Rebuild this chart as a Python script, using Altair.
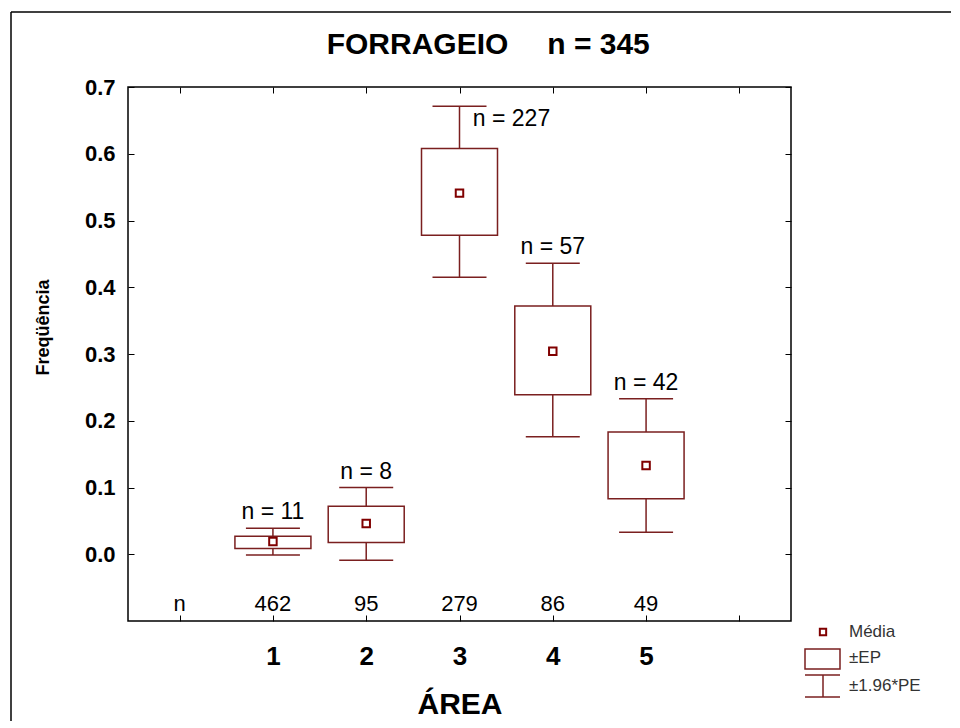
import altair as alt
import pandas as pd

# ---- data ----
areas = [1, 2, 3, 4, 5]
means = [0.019, 0.046, 0.541, 0.304, 0.133]
ep_low = [0.0085, 0.0175, 0.478, 0.239, 0.083]
ep_high = [0.027, 0.072, 0.608, 0.372, 0.183]
ci_low = [-0.001, -0.009, 0.415, 0.176, 0.033]
ci_high = [0.039, 0.100, 0.671, 0.436, 0.233]
n_labels = ["n = 11", "n = 8", "n = 227", "n = 57", "n = 42"]
count_pos = [0, 1, 2, 3, 4, 5]
count_labels = ["n", "462", "95", "279", "86", "49"]
x_ticks = [0, 1, 2, 3, 4, 5, 6]
y_ticks = [0.0, 0.1, 0.2, 0.3, 0.4, 0.5, 0.6, 0.7]

df = pd.DataFrame({
    "area": areas, "mean": means, "ep_low": ep_low, "ep_high": ep_high,
    "ci_low": ci_low, "ci_high": ci_high, "nlab": n_labels,
})
df_counts = pd.DataFrame({"pos": count_pos, "lab": count_labels})
dummy = pd.DataFrame({"k": [0]})

MAROON = "#7a1f1f"
FONT = "Liberation Sans"

xs = alt.Scale(domain=[-0.5, 6.5], nice=False, zero=False)
ys = alt.Scale(domain=[-0.1, 0.7], nice=False, zero=False)

x_bottom = alt.Axis(
    orient="bottom", values=x_ticks, ticks=False, tickSize=0,
    labelExpr="datum.value >= 1 && datum.value <= 5 ? datum.label : ''",
    labelFont=FONT, labelFontSize=26, labelFontWeight="bold", labelColor="black",
    labelPadding=22, domain=False,
    grid=True, gridColor="black", gridDash=[6, 2000], gridWidth=1, gridOpacity=1,
    title="ÁREA", titleFont=FONT, titleFontSize=30, titleFontWeight="bold",
    titleColor="black", titlePadding=20,
)
y_left = alt.Axis(
    orient="left", values=y_ticks, format=".1f", ticks=False, tickSize=0,
    labelFont=FONT, labelFontSize=22, labelFontWeight="bold", labelColor="black",
    labelPadding=13, domain=False,
    grid=True, gridColor="black", gridDash=[6, 2000], gridWidth=1, gridOpacity=1,
    title="Freqüência", titleFont=FONT, titleFontSize=18, titleFontWeight="bold",
    titleColor="black", titleX=-85, titleY=240, titleAngle=270,
    titleAlign="center", titleBaseline="middle",
)
x_top = alt.Axis(
    orient="top", values=x_ticks, ticks=False, tickSize=0, labels=False,
    domain=False, grid=True, gridColor="black", gridDash=[6, 2000],
    gridWidth=1, gridOpacity=1, title=None,
)
y_right = alt.Axis(
    orient="right", values=y_ticks, ticks=False, tickSize=0, labels=False,
    domain=False, grid=True, gridColor="black", gridDash=[6, 2000],
    gridWidth=1, gridOpacity=1, title=None,
)

base = alt.Chart(df)

whisk = base.mark_rule(color=MAROON, strokeWidth=1.5).encode(
    x=alt.X("area:Q", scale=xs, axis=x_bottom),
    y=alt.Y("ci_low:Q", scale=ys, axis=y_left),
    y2="ci_high:Q",
)
box = base.mark_bar(size=76, fill="white", stroke=MAROON, strokeWidth=1.5).encode(
    x=alt.X("area:Q", scale=xs, axis=x_top),
    y=alt.Y("ep_low:Q", scale=ys, axis=y_right),
    y2="ep_high:Q",
)
cap_hi = base.mark_tick(orient="horizontal", size=54, thickness=1.5, color=MAROON, opacity=1).encode(
    x=alt.X("area:Q", scale=xs, axis=None),
    y=alt.Y("ci_high:Q", scale=ys, axis=None),
)
cap_lo = base.mark_tick(orient="horizontal", size=54, thickness=1.5, color=MAROON, opacity=1).encode(
    x=alt.X("area:Q", scale=xs, axis=None),
    y=alt.Y("ci_low:Q", scale=ys, axis=None),
)
mean_pt = base.mark_point(shape="square", size=56, filled=False, color="#800000",
                          strokeWidth=2, opacity=1).encode(
    x=alt.X("area:Q", scale=xs, axis=None),
    y=alt.Y("mean:Q", scale=ys, axis=None),
)
nlab_common = dict(font=FONT, fontSize=23, color="black", baseline="middle", align="center")
nlab = base.transform_filter("datum.area != 3").mark_text(dy=-16, **nlab_common).encode(
    x=alt.X("area:Q", scale=xs, axis=None),
    y=alt.Y("ci_high:Q", scale=ys, axis=None),
    text="nlab:N",
)
nlab3 = base.transform_filter("datum.area == 3").mark_text(dx=52, dy=13, **nlab_common).encode(
    x=alt.X("area:Q", scale=xs, axis=None),
    y=alt.Y("ci_high:Q", scale=ys, axis=None),
    text="nlab:N",
)
counts = alt.Chart(df_counts).mark_text(font=FONT, fontSize=22, color="black",
                                         baseline="middle", align="center").encode(
    x=alt.X("pos:Q", scale=xs, axis=None),
    y=alt.value(517),
    text="lab:N",
)

d = alt.Chart(dummy)
title1 = d.mark_text(text="FORRAGEIO", font=FONT, fontSize=30, fontWeight="bold",
                     color="black", align="center", baseline="middle").encode(
    x=alt.value(289.5), y=alt.value(-42))
title2 = d.mark_text(text="n = 345", font=FONT, fontSize=30, fontWeight="bold",
                     color="black", align="center", baseline="middle").encode(
    x=alt.value(470.5), y=alt.value(-42))

frame_top = d.mark_rule(color="black", strokeWidth=1.5).encode(
    x=alt.value(-117), x2=alt.value(840), y=alt.value(-75))
frame_left = d.mark_rule(color="black", strokeWidth=1.5).encode(
    x=alt.value(-117), y=alt.value(-75), y2=alt.value(700))

# legend (drawn)
leg_pt = d.mark_point(shape="square", size=40, filled=False, color="#800000",
                      strokeWidth=2, opacity=1).encode(x=alt.value(695), y=alt.value(545))
leg_box = d.mark_rect(fill="white", stroke=MAROON, strokeWidth=1.5).encode(
    x=alt.value(677), x2=alt.value(712), y=alt.value(562), y2=alt.value(582))
leg_cap1 = d.mark_rule(color=MAROON, strokeWidth=1.5).encode(
    x=alt.value(677), x2=alt.value(712), y=alt.value(588))
leg_cap2 = d.mark_rule(color=MAROON, strokeWidth=1.5).encode(
    x=alt.value(677), x2=alt.value(712), y=alt.value(610))
leg_stem = d.mark_rule(color=MAROON, strokeWidth=1.5).encode(
    x=alt.value(695), y=alt.value(588), y2=alt.value(610))
leg_t = dict(font=FONT, fontSize=17, color="#333333", align="left", baseline="middle")
leg_t1 = d.mark_text(text="Média", **leg_t).encode(x=alt.value(721), y=alt.value(545))
leg_t2 = d.mark_text(text="±EP", **leg_t).encode(x=alt.value(721), y=alt.value(571))
leg_t3 = d.mark_text(text="±1.96*PE", **leg_t).encode(x=alt.value(721), y=alt.value(599))

chart = alt.layer(
    whisk, box, cap_hi, cap_lo, mean_pt, nlab, nlab3, counts,
    title1, title2, frame_top, frame_left,
    leg_pt, leg_box, leg_cap1, leg_cap2, leg_stem, leg_t1, leg_t2, leg_t3,
).resolve_axis(x="independent", y="independent").properties(
    width=663, height=534,
    autosize=alt.AutoSizeParams(type="none"),
    padding={"left": 120, "top": 79, "right": 160, "bottom": 100},
    background="white",
).configure(
    font=FONT,
    view=alt.ViewConfig(stroke="black", strokeWidth=1.5),
)

chart.save("out.html", embed_options={"renderer": "svg", "actions": False})
